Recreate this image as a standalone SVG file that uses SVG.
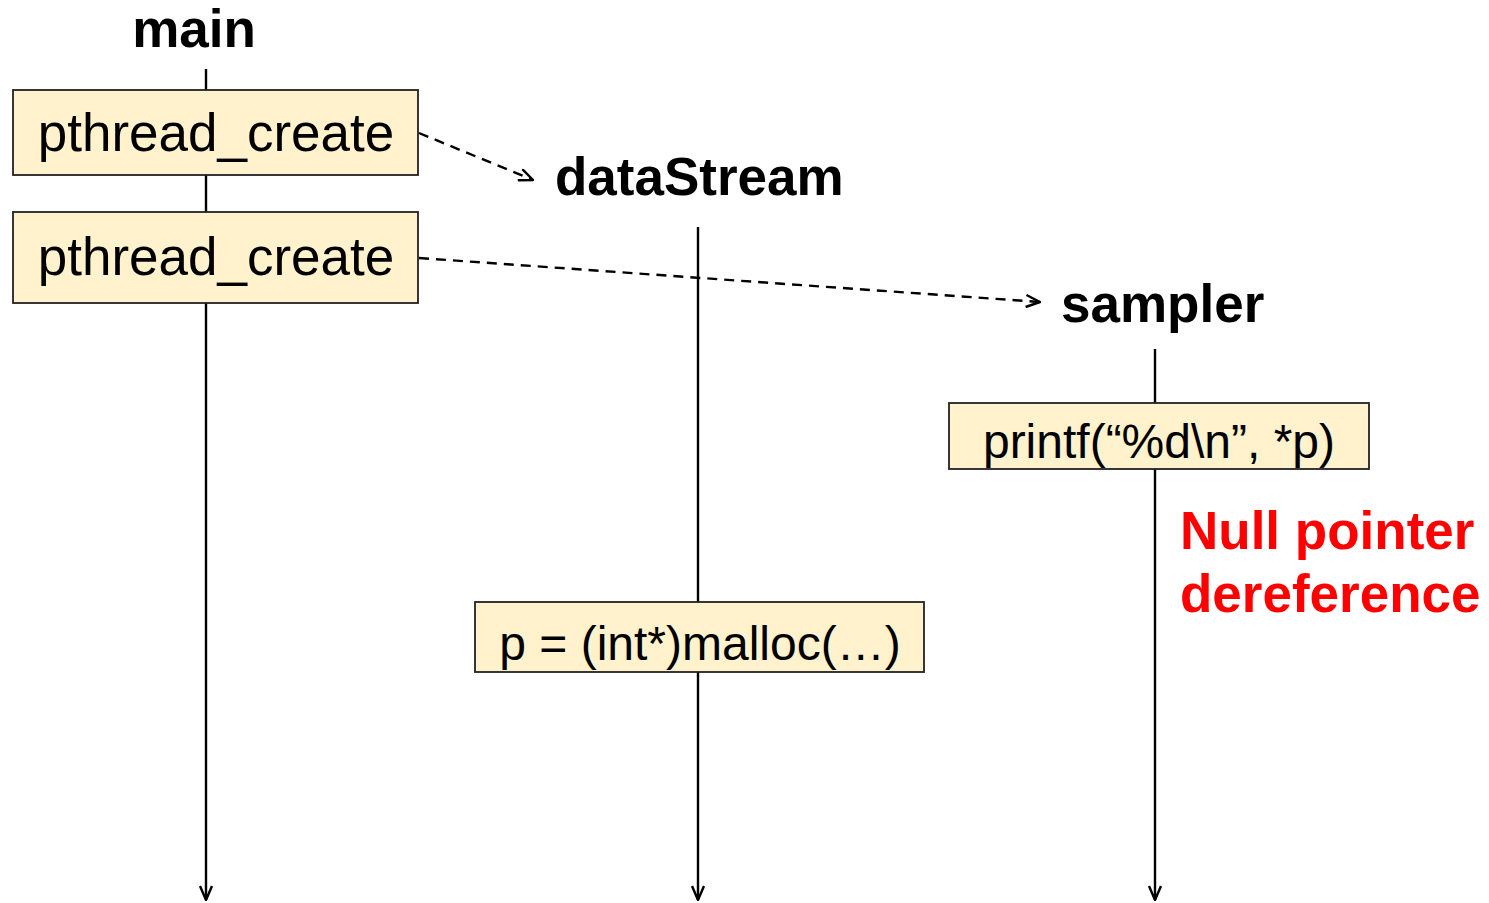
<svg xmlns="http://www.w3.org/2000/svg" width="1489" height="903" viewBox="0 0 1489 903">
  <style>
    .title { font-family: "Liberation Sans", Arial, sans-serif; font-weight: bold; font-size: 53px; fill: #000; }
    .code { font-family: "Liberation Sans", Arial, sans-serif; font-size: 48px; fill: #000; }
    .big { font-size: 53px; }
    .box { fill: #FFF2CC; stroke: #222; stroke-width: 1.8; }
    .life { stroke: #000; stroke-width: 2.4; fill: none; }
    .spawn { stroke: #000; stroke-width: 2.4; fill: none; stroke-dasharray: 10 7; }
    .warn { font-family: "Liberation Sans", Arial, sans-serif; font-weight: bold; font-size: 53px; fill: #FF0000; }
  </style>
  <defs>
    <marker id="open" viewBox="0 0 16 14" refX="15" refY="7" markerWidth="16" markerHeight="14" markerUnits="userSpaceOnUse" orient="auto">
      <path d="M1,1 L15,7 L1,13" fill="none" stroke="#000" stroke-width="2.4"/>
    </marker>
  </defs>

  <!-- lifelines of the three threads and the thread-spawn arrows -->
  <g id="connectors">
    <line class="life" x1="206" y1="69" x2="206" y2="900" marker-end="url(#open)"/>
    <line class="life" x1="698" y1="227" x2="698" y2="900" marker-end="url(#open)"/>
    <line class="life" x1="1155" y1="349" x2="1155" y2="900" marker-end="url(#open)"/>
    <line class="spawn" x1="419" y1="133" x2="533" y2="180" marker-end="url(#open)"/>
    <line class="spawn" x1="419" y1="258" x2="1040" y2="302" marker-end="url(#open)"/>
  </g>

  <g id="main-thread">
    <text class="title" x="194" y="47" text-anchor="middle">main</text>
  </g>
  <g id="create-1">
    <rect class="box" x="13" y="90" width="405" height="85"/>
    <text class="code big" x="216" y="151" text-anchor="middle">pthread_create</text>
  </g>
  <g id="create-2">
    <rect class="box" x="13" y="212" width="405" height="91"/>
    <text class="code big" x="216" y="275" text-anchor="middle">pthread_create</text>
  </g>

  <g id="dataStream-thread">
    <text class="title" x="555" y="195">dataStream</text>
  </g>
  <g id="malloc">
    <rect class="box" x="475" y="602" width="449" height="70"/>
    <text class="code" x="700" y="660" text-anchor="middle">p = (int*)malloc(…)</text>
  </g>

  <g id="sampler-thread">
    <text class="title" x="1061" y="322">sampler</text>
  </g>
  <g id="printf">
    <rect class="box" x="949" y="403" width="420" height="66"/>
    <text class="code" x="1159" y="458" text-anchor="middle">printf(“%d\n”, *p)</text>
  </g>

  <g id="null-deref">
    <text class="warn" x="1180" y="549">Null pointer</text>
    <text class="warn" x="1180" y="612">dereference</text>
  </g>
</svg>
